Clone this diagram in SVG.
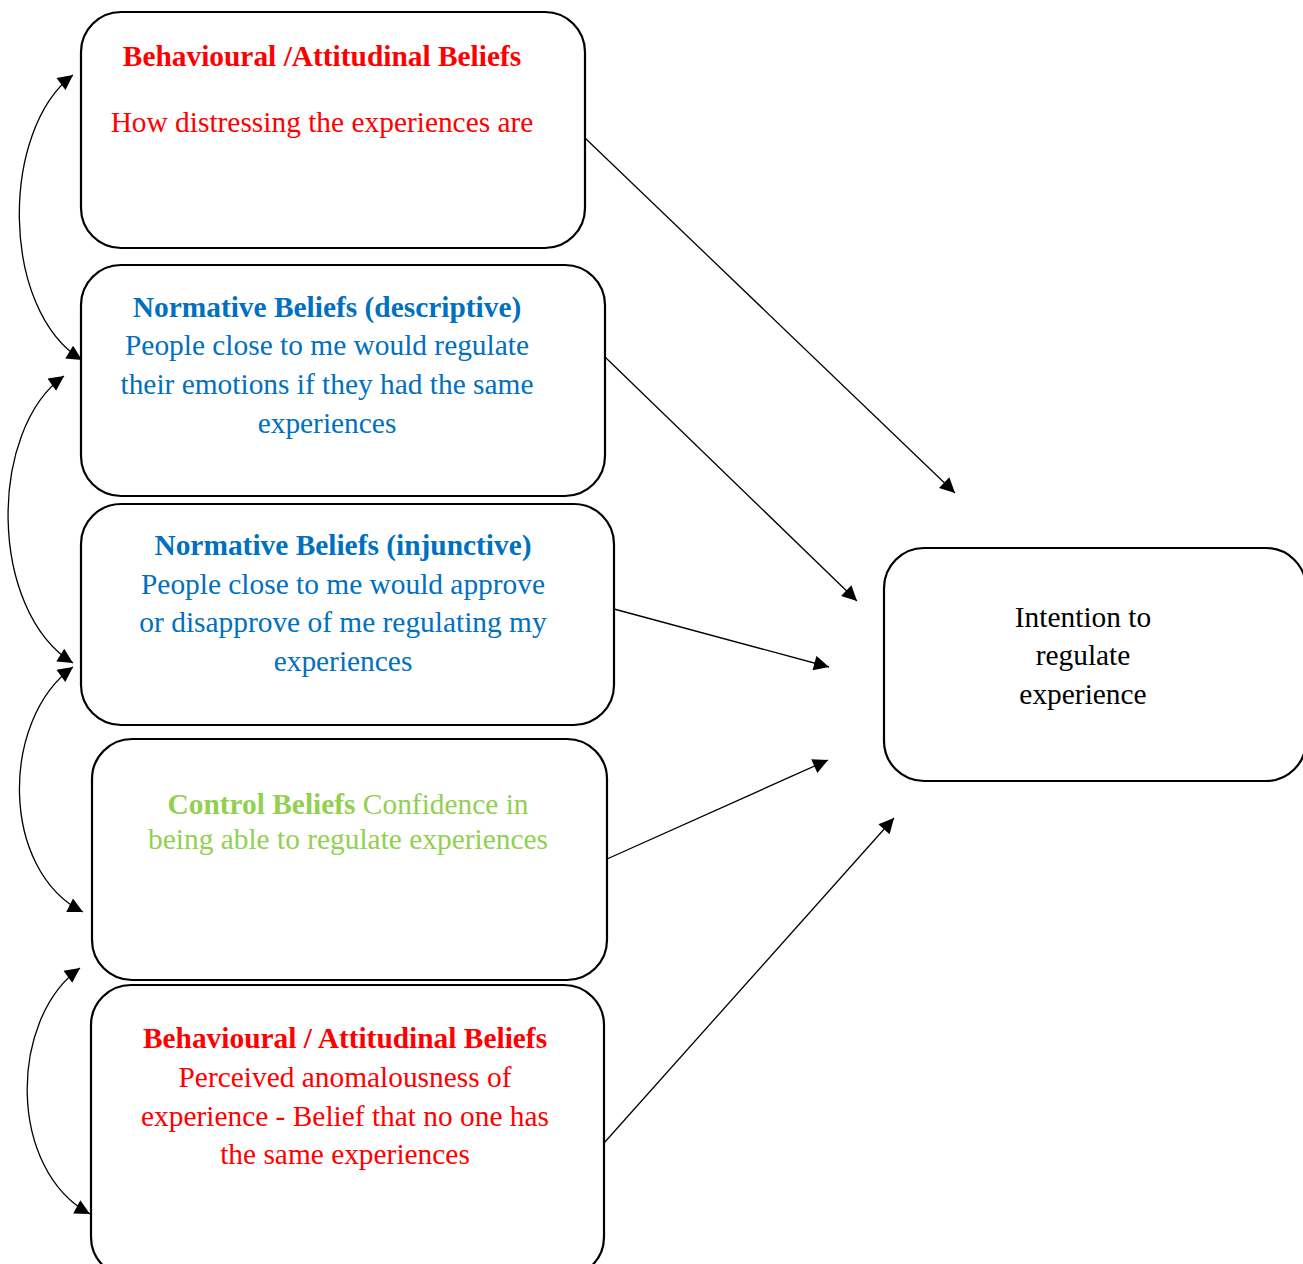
<svg xmlns="http://www.w3.org/2000/svg" width="1303" height="1264" viewBox="0 0 1303 1264">
<defs>
<style>
.box{fill:#fff;stroke:#000;stroke-width:2.2}
text{font-family:"Liberation Serif","Times New Roman",serif;font-size:29.4px;text-anchor:middle}
.b{font-weight:bold}
.red{fill:#ff0000}
.blue{fill:#0070c0}
.green{fill:#92d050}
.blk{fill:#000}
.c{fill:none;stroke:#000;stroke-width:1.3}
</style>
<marker id="ah" viewBox="0 0 10 10" refX="10" refY="5" markerWidth="18" markerHeight="15" markerUnits="userSpaceOnUse" orient="auto-start-reverse">
<path d="M0,0 L10,5 L0,10 z" fill="#000"/>
</marker>
</defs>
<g id="n1">
<rect class="box" x="81" y="12" width="504" height="236" rx="40"/>
<text class="red b" x="322" y="66">Behavioural /Attitudinal Beliefs</text>
<text class="red" x="322" y="132">How distressing the experiences are</text>
</g>
<g id="n2">
<rect class="box" x="81" y="265" width="524" height="231" rx="40"/>
<text class="blue b" x="327" y="317">Normative Beliefs (descriptive)</text>
<text class="blue" x="327" y="355">People close to me would regulate</text>
<text class="blue" x="327" y="394">their emotions if they had the same</text>
<text class="blue" x="327" y="433">experiences</text>
</g>
<g id="n3">
<rect class="box" x="81" y="504" width="533" height="221" rx="40"/>
<text class="blue b" x="343" y="555">Normative Beliefs (injunctive)</text>
<text class="blue" x="343" y="594">People close to me would approve</text>
<text class="blue" x="343" y="632">or disapprove of me regulating my</text>
<text class="blue" x="343" y="671">experiences</text>
</g>
<g id="n4">
<rect class="box" x="92" y="739" width="515" height="241" rx="40"/>
<text class="green" x="348" y="814"><tspan class="b">Control Beliefs</tspan> Confidence in</text>
<text class="green" x="348" y="849">being able to regulate experiences</text>
</g>
<g id="n5">
<rect class="box" x="91" y="985" width="513" height="292" rx="40"/>
<text class="red b" x="345" y="1048">Behavioural / Attitudinal Beliefs</text>
<text class="red" x="345" y="1087">Perceived anomalousness of</text>
<text class="red" x="345" y="1126">experience - Belief that no one has</text>
<text class="red" x="345" y="1164">the same experiences</text>
</g>
<g id="n6">
<rect class="box" x="884" y="548" width="422" height="233" rx="40"/>
<text class="blk" x="1083" y="627">Intention to</text>
<text class="blk" x="1083" y="665">regulate</text>
<text class="blk" x="1083" y="704">experience</text>
</g>
<g id="connectors">
<path class="c" d="M73,75 C0,130 0,310 82,360" marker-start="url(#ah)" marker-end="url(#ah)"/>
<path class="c" d="M64,376 C-12,430 -12,610 73,663" marker-start="url(#ah)" marker-end="url(#ah)"/>
<path class="c" d="M73,667 C0,720 0,870 83,912" marker-start="url(#ah)" marker-end="url(#ah)"/>
<path class="c" d="M80,968 C8,1020 8,1170 90,1214" marker-start="url(#ah)" marker-end="url(#ah)"/>
<line class="c" x1="585" y1="138" x2="955" y2="493" marker-end="url(#ah)"/>
<line class="c" x1="605" y1="357" x2="857" y2="601" marker-end="url(#ah)"/>
<line class="c" x1="614" y1="609" x2="829" y2="667" marker-end="url(#ah)"/>
<line class="c" x1="607" y1="859" x2="828" y2="760" marker-end="url(#ah)"/>
<line class="c" x1="604" y1="1143" x2="894" y2="818" marker-end="url(#ah)"/>
</g>
</svg>
